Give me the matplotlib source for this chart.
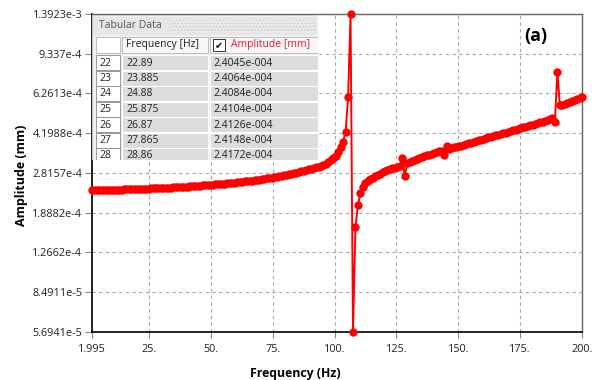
import numpy as np
import matplotlib.pyplot as plt
import matplotlib.ticker as mticker
from matplotlib.patches import Rectangle

plt.rcParams['font.family'] = ['Open Sans', 'DejaVu Sans']

# ================================================================
# DATA
# ================================================================
# frequency grid of the solver: 200 steps, 0.995 Hz apart (see table rows)
freq = np.round(1.995 + 0.995 * np.arange(200), 3)

# amplitude at each frequency step, in 1e-4 mm
amp_e4 = [
    2.370, 2.371, 2.372, 2.373, 2.374, 2.375, 2.376, 2.377, 2.378, 2.379,
    2.381, 2.382, 2.384, 2.386, 2.388, 2.390, 2.392, 2.394, 2.396, 2.3985,
    2.4015, 2.4045, 2.4064, 2.4084, 2.4104, 2.4126, 2.4148, 2.4172, 2.420, 2.423,
    2.426, 2.429, 2.432, 2.436, 2.439, 2.443, 2.446, 2.450, 2.454, 2.458,
    2.462, 2.466, 2.470, 2.475, 2.479, 2.484, 2.489, 2.494, 2.499, 2.504,
    2.509, 2.515, 2.520, 2.526, 2.532, 2.538, 2.544, 2.551, 2.557, 2.564,
    2.571, 2.578, 2.586, 2.593, 2.601, 2.609, 2.618, 2.627, 2.636, 2.645,
    2.655, 2.665, 2.676, 2.687, 2.698, 2.710, 2.723, 2.736, 2.750, 2.764,
    2.779, 2.794, 2.810, 2.827, 2.846, 2.865, 2.882, 2.900, 2.918, 2.936,
    2.955, 2.976, 3.000, 3.027, 3.058, 3.095, 3.140, 3.195, 3.265, 3.355,
    3.47, 3.64, 3.86, 4.27, 6.03, 13.923, 0.56941, 1.64, 2.04, 2.30,
    2.45, 2.54, 2.60, 2.64, 2.68, 2.72, 2.76, 2.80, 2.83, 2.86,
    2.89, 2.92, 2.95, 2.97, 3.00, 3.02, 3.26, 2.73, 3.10, 3.14,
    3.18, 3.21, 3.24, 3.27, 3.30, 3.33, 3.36, 3.39, 3.42, 3.45,
    3.48, 3.50, 3.52, 3.36, 3.68, 3.60, 3.62, 3.64, 3.66, 3.69,
    3.71, 3.74, 3.76, 3.79, 3.82, 3.85, 3.88, 3.91, 3.94, 3.97,
    4.00, 4.03, 4.05, 4.08, 4.11, 4.14, 4.17, 4.20, 4.23, 4.26,
    4.29, 4.33, 4.36, 4.39, 4.42, 4.45, 4.48, 4.52, 4.55, 4.58,
    4.62, 4.65, 4.68, 4.72, 4.76, 4.80, 4.85, 4.90, 4.72, 7.80,
    5.56, 5.60, 5.65, 5.70, 5.75, 5.80, 5.86, 5.92, 5.98, 6.05,
]
amp = np.array(amp_e4) * 1e-4
assert len(amp) == len(freq)

xticks = [1.995, 25, 50, 75, 100, 125, 150, 175, 200]
xticklabels = ['1.995', '25.', '50.', '75.', '100.', '125.', '150.', '175.', '200.']
yticks = [5.6941e-5, 8.4911e-5, 1.2662e-4, 1.8882e-4, 2.8157e-4,
          4.1988e-4, 6.2613e-4, 9.337e-4, 1.3923e-3]
yticklabels = ['5.6941e-5', '8.4911e-5', '1.2662e-4', '1.8882e-4', '2.8157e-4',
               '4.1988e-4', '6.2613e-4', '9.337e-4', '1.3923e-3']

# rows shown in the tabular data panel
table_rows = [22, 23, 24, 25, 26, 27, 28]

W, H = 596, 380

# ================================================================
# PLOT
# ================================================================
fig = plt.figure(figsize=(W / 100, H / 100), dpi=100)
ax = fig.add_axes([92 / W, 1 - 332 / H, 490 / W, 318 / H])
ax.set_yscale('log')

ax.plot(freq, amp, color='#ff0000', lw=1.4, marker='o', ms=5.0,
        mec='#ff0000', mfc='#ff0000', clip_on=False, zorder=3)

ax.set_xlim(freq[0], freq[-1])
ax.set_ylim(amp.min(), amp.max())
ax.set_xticks(xticks)
ax.set_xticklabels(xticklabels)
ax.set_yticks(yticks)
ax.set_yticklabels(yticklabels)
ax.yaxis.set_minor_locator(mticker.NullLocator())
ax.grid(True, ls=(0, (3, 3)), color='#a8a8a8', lw=0.8)
ax.tick_params(direction='out', length=5, width=0.8, color='#888888',
               labelsize=7.8, labelcolor='#222222', pad=2)
ax.tick_params(axis='x', length=4, pad=5)
for s in ['left', 'bottom']:
    ax.spines[s].set_color('black')
    ax.spines[s].set_linewidth(1.2)
for s in ['top', 'right']:
    ax.spines[s].set_color('#666666')
    ax.spines[s].set_linewidth(1.0)

fig.text(22 / W, 1 - 175 / H, 'Amplitude (mm)', rotation=90, ha='center',
         va='center', fontsize=9, fontweight='bold')
fig.text(295 / W, 1 - 373 / H, 'Frequency (Hz)', ha='center', va='center',
         fontsize=8.8, fontweight='bold')
fig.text(536 / W, 1 - 36 / H, '(a)', ha='center', va='center',
         fontsize=13, fontweight='bold')

# ================================================================
# TABULAR DATA PANEL (overlay in pixel coordinates)
# ================================================================
ov = fig.add_axes([0, 0, 1, 1], zorder=5)
ov.set_xlim(0, W)
ov.set_ylim(H, 0)
ov.axis('off')

clip = Rectangle((92, 15), 226, 145, transform=ov.transData)
artists = []

def box(x, y, w, h, **kw):
    r = Rectangle((x, y), w, h, **kw)
    ov.add_patch(r)
    artists.append(r)
    return r

def txt(x, y, s, **kw):
    t = ov.text(x, y, s, va='center', ha='left', fontsize=7.5, **kw)
    artists.append(t)
    return t

box(92, 15, 226, 145, fc='#f0f0f0', ec='#c8c8c8', lw=0.6)
box(93, 17, 224, 18, fc='#e6e6e6', ec='none')
box(170, 20, 146, 12, fc='#ececec', ec='#cfcfcf', lw=0, hatch='.....')
txt(99, 26, 'Tabular Data', color='#555555')

box(96, 37, 24, 16, fc='white', ec='#b5b5b5', lw=0.6)
box(122, 37, 86, 16, fc='#f7f7f7', ec='#b5b5b5', lw=0.6)
box(210, 37, 108, 16, fc='#f7f7f7', ec='#b5b5b5', lw=0.6)
txt(126, 45, 'Frequency [Hz]', color='#222222')
box(213, 39, 12, 12, fc='white', ec='#333333', lw=0.7)
ov.text(219, 45.5, '\u2714', ha='center', va='center', fontsize=7,
        color='#111111', family=['DejaVu Sans'])
txt(231, 45, 'Amplitude [mm]', color='#e8173c')

def fmt_amp(a):
    mant, ex = f"{a:.4e}".split('e')
    e = int(ex)
    return f"{mant}e{'-' if e < 0 else '+'}{abs(e):03d}"

for k, row in enumerate(table_rows):
    y = 55 + 15.5 * k
    box(96, y, 24, 15, fc='white', ec='#8a8a8a', lw=0.6)
    box(122, y, 86, 15, fc='#dcdcdc', ec='white', lw=0.8)
    box(210, y, 108, 15, fc='#dcdcdc', ec='white', lw=0.8)
    txt(99, y + 8, str(row), color='#222222')
    txt(126, y + 8, f"{freq[row - 1]:g}", color='#222222')
    txt(213, y + 8, fmt_amp(amp[row - 1]), color='#222222')

for a in artists:
    a.set_clip_path(clip)

fig.savefig('out.png', dpi=100)
